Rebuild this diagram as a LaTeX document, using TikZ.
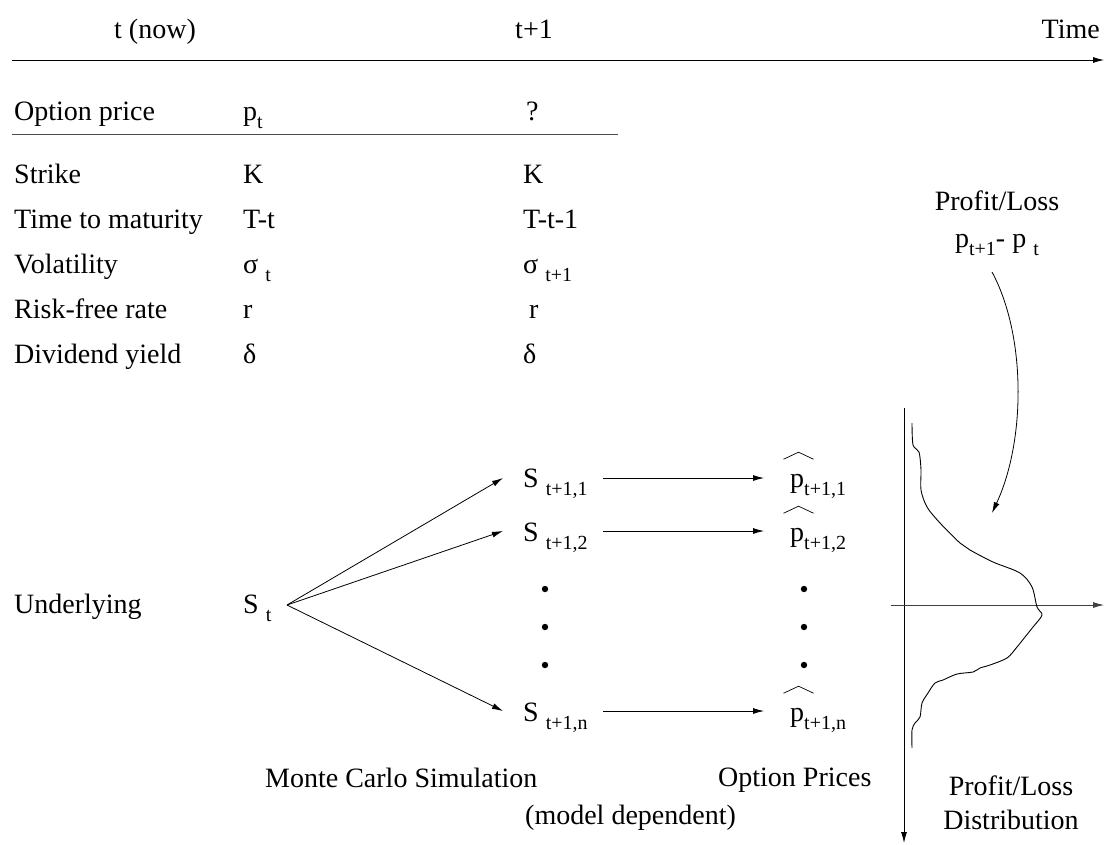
\documentclass[tikz,border=0pt]{standalone}
\usepackage{fontspec}
\setmainfont{Liberation Serif}
\usetikzlibrary{arrows.meta}
\newcommand{\sbt}[1]{\raisebox{-0.3em}{\fontsize{20}{20}\selectfont #1}}
\newcommand{\phat}{\leavevmode\rlap{\hspace{-0.25em}\raisebox{0.98em}{\tikz[x=1pt,y=1pt]\draw[line width=0.7pt] (0,0)--(15,7)--(30,0);}}p}
\tikzset{
  lbl/.style={font=\fontsize{28}{34}\selectfont, inner sep=0pt, anchor=base west},
  lblc/.style={lbl, anchor=base},
  arr/.style={-{Latex[length=11pt,width=6pt]}, line width=0.8pt},
  ln/.style={line width=0.8pt},
  dot/.style={fill=black}
}
\begin{document}
\begin{tikzpicture}[x=1pt,y=-1pt]
\useasboundingbox[fill=white] (0,0) rectangle (1105,844);
% time line
\node[lblc] (tnow) at (155,38) {t (now)};
\node[lblc] (tone) at (534,38) {t+1};
\node[lbl,anchor=base east] (time) at (1100,38) {Time};
\coordinate (tl0) at (12,60);
\coordinate (tl1) at (1104,60);
\draw[arr] (tl0) -- (tl1);
% table
\node[lbl] (op) at (14,120) {Option price};
\node[lbl] (opa) at (243,120) {p\sbt{t}};
\node[lbl] (opb) at (526,120) {?};
\draw[ln,black!70] (12,134) -- (618,134);
\node[lbl] (sk) at (14,183) {Strike};
\node[lbl] (ska) at (243,183) {K};
\node[lbl] (skb) at (523,183) {K};
\node[lbl] (tm) at (14,228) {Time to maturity};
\node[lbl] (tma) at (243,228) {T-t};
\node[lbl] (tmb) at (523,228) {T-t-1};
\node[lbl] (vo) at (14,273) {Volatility};
\node[lbl] (voa) at (243,273) {σ \sbt{t}};
\node[lbl] (vob) at (523,273) {σ \sbt{t+1}};
\node[lbl] (rf) at (14,318) {Risk-free rate};
\node[lbl] (rfa) at (243,318) {r};
\node[lbl] (rfb) at (529,318) {r};
\node[lbl] (dy) at (14,363) {Dividend yield};
\node[lbl] (dya) at (243,363) {δ};
\node[lbl] (dyb) at (523,363) {δ};
% profit/loss label
\node[lblc] (pl) at (997,210) {Profit/Loss};
\node[lblc] (pd) at (997,247) {p\sbt{t+1}- p \sbt{t}};
\coordinate (cs) at (992,272);
\coordinate (ce) at (992,513);
\draw[arr] (cs) .. controls (1026,335) and (1026,440) .. (ce);
% underlying
\node[lbl] (und) at (14,613) {Underlying};
\node[lbl] (St) at (243,613) {S \sbt{t}};
\coordinate (o) at (287,605);
\node[lbl] (Sa) at (523,487) {S \sbt{t+1,1}};
\node[lbl] (Sb) at (523,541) {S \sbt{t+1,2}};
\node[lbl] (Sn) at (523,721) {S \sbt{t+1,n}};
\coordinate (ta) at (503,478);
\coordinate (tb) at (503,531);
\coordinate (tn) at (503,711);
\draw[arr] (o) -- (ta);
\draw[arr] (o) -- (tb);
\draw[arr] (o) -- (tn);
\node[lbl] (pa) at (790,487) {\phat\sbt{t+1,1}};
\node[lbl] (pb) at (790,541) {\phat\sbt{t+1,2}};
\node[lbl] (pn) at (790,721) {\phat\sbt{t+1,n}};
\coordinate (ha0) at (603,478); \coordinate (ha1) at (764,478);
\coordinate (hb0) at (603,531); \coordinate (hb1) at (764,531);
\coordinate (hn0) at (603,711); \coordinate (hn1) at (764,711);
\draw[arr] (ha0) -- (ha1);
\draw[arr] (hb0) -- (hb1);
\draw[arr] (hn0) -- (hn1);
\foreach \yy in {589,627,665}{
  \fill[dot] (545,\yy) circle[radius=3.2pt];
  \fill[dot] (804,\yy) circle[radius=3.2pt];
}
% bottom labels
\node[lbl] (mc) at (265,787) {Monte Carlo Simulation};
\node[lbl] (md) at (525,824) {(model dependent)};
\node[lbl] (opp) at (718,786) {Option Prices};
\node[lblc] (pld) at (1011,795) {Profit/Loss};
\node[lblc] (dist) at (1011,829) {Distribution};
% distribution axes
\coordinate (va0) at (904,408); \coordinate (va1) at (904,843);
\coordinate (ha) at (891,605); \coordinate (hb) at (1104,605);
\draw[arr] (va0) -- (va1);
\draw[arr,black!75] (ha) -- (hb);
\draw[line width=0.9pt] plot[smooth,tension=0.5] coordinates {
 (912,423) (913,445) (919,452) (921,470) (921,490) (927,507) (940,523) (960,543)
 (970,550) (993,562) (1020,573) (1032,587) (1037,607) (1042,615) (1033,627)
 (1025,637) (1017,647) (1007,658) (990,665) (980,668) (973,672) (957,674)
 (943,680) (935,683) (928,693) (922,703) (920,717) (915,723) (912,730) (912,748)};
\end{tikzpicture}
\end{document}
